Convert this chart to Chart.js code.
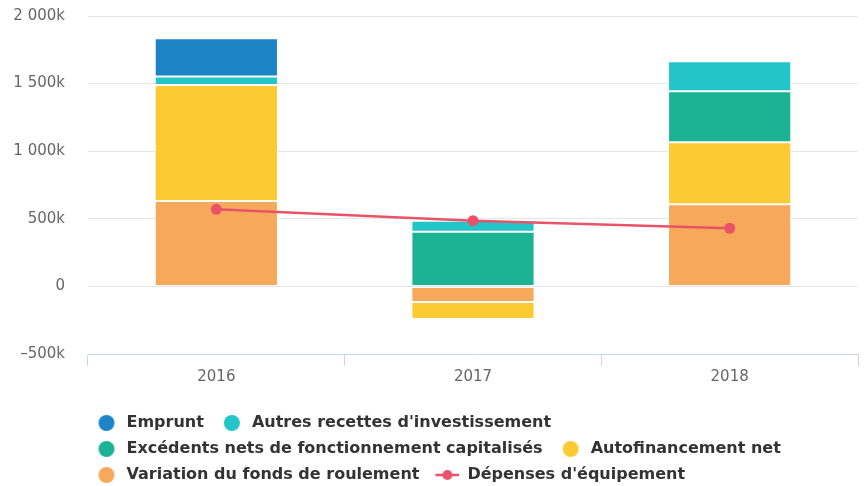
<!DOCTYPE html>
<html>
<head>
<meta charset="utf-8">
<script src="https://cdn.jsdelivr.net/npm/chart.js@4.4.1/dist/chart.umd.min.js"></script>
<style>
  html, body { margin: 0; padding: 0; background: #fff; }
  #wrap { width: 866px; height: 486px; }
</style>
</head>
<body>
<div id="wrap"><canvas id="chart"></canvas></div>
<script>
var years = ['2016', '2017', '2018'];

var emprunt = [284000, null, null];
var autresRecettes = [62000, 81000, 222000];
var excedents = [null, 405000, 377000];
var autofinancement = [858000, -126000, 459000];
var variationFdr = [632000, -115000, 607000];
var depensesEquipement = [570000, 486000, 430000];

var yTicks = [-500000, 0, 500000, 1000000, 1500000, 2000000];

// stacking goes bottom-up in dataset order, legend shows them top-down
var legendOrder = [4, 3, 2, 1, 0, 5];

function legendSymbol(color, isLine) {
  var c = document.createElement('canvas');
  c.width = 30;
  c.height = 16;
  var ctx = c.getContext('2d');
  ctx.fillStyle = color;
  ctx.strokeStyle = color;
  if (isLine) {
    ctx.lineWidth = 2.5;
    ctx.beginPath();
    ctx.moveTo(6, 8);
    ctx.lineTo(30, 8);
    ctx.stroke();
    ctx.beginPath();
    ctx.arc(18, 8, 5, 0, Math.PI * 2);
    ctx.fill();
  } else {
    ctx.beginPath();
    ctx.arc(18, 8, 8, 0, Math.PI * 2);
    ctx.fill();
  }
  return c;
}

function barSet(label, color, values) {
  return {
    type: 'bar',
    label: label,
    data: values,
    backgroundColor: color,
    borderColor: '#ffffff',
    borderWidth: 1,
    borderSkipped: false,
    categoryPercentage: 1,
    barPercentage: 0.48,
    symbol: legendSymbol(color, false)
  };
}

function formatK(v) {
  if (v === 0) return '0';
  var k = Math.abs(v / 1000).toString().replace(/\B(?=(\d{3})+(?!\d))/g, ' ');
  return (v < 0 ? '\u2013' : '') + k + 'k';
}

// the legend starts a bit left of the plot area
var legendShift = {
  id: 'legendShift',
  afterLayout: function(chart) {
    chart.legend.left = 78.5;
  }
};

Chart.defaults.font.family = 'DejaVu Sans';

new Chart(document.getElementById('chart'), {
  type: 'bar',
  data: {
    labels: years,
    datasets: [
      barSet('Variation du fonds de roulement', '#f6a95a', variationFdr),
      barSet('Autofinancement net', '#fdca33', autofinancement),
      barSet('Excédents nets de fonctionnement capitalisés', '#1bb394', excedents),
      barSet("Autres recettes d'investissement", '#22c5c8', autresRecettes),
      barSet('Emprunt', '#1e84c8', emprunt),
      {
        type: 'line',
        label: "Dépenses d'équipement",
        data: depensesEquipement,
        order: -1,
        borderColor: '#e9536a',
        backgroundColor: '#e9536a',
        borderWidth: 2.5,
        pointRadius: 5.5,
        pointBorderWidth: 0,
        pointBackgroundColor: '#e9536a',
        tension: 0,
        symbol: legendSymbol('#e9536a', true)
      }
    ]
  },
  plugins: [legendShift],
  options: {
    responsive: true,
    maintainAspectRatio: false,
    animation: false,
    layout: {
      padding: { left: 0, right: 8, top: 16, bottom: 0 }
    },
    scales: {
      x: {
        stacked: true,
        border: { color: '#ccd6eb', width: 1 },
        grid: {
          color: '#ccd6eb',
          drawOnChartArea: false,
          drawTicks: true,
          tickLength: 12
        },
        ticks: {
          color: '#666666',
          font: { size: 15 },
          padding: 2
        },
        afterFit: function(scale) { scale.height = 51; }
      },
      y: {
        stacked: true,
        min: -500000,
        max: 2000000,
        border: { display: false },
        grid: {
          color: '#e6e6e6',
          drawTicks: true,
          tickLength: 23,
          tickColor: 'rgba(0,0,0,0)'
        },
        ticks: {
          color: '#666666',
          font: { size: 15 },
          padding: 0,
          callback: function(v) { return formatK(v); }
        },
        afterBuildTicks: function(scale) {
          scale.ticks = yTicks.map(function(v) { return { value: v }; });
        },
        afterFit: function(scale) { scale.width = 88; }
      }
    },
    plugins: {
      tooltip: { enabled: false },
      legend: {
        position: 'bottom',
        align: 'start',
        maxHeight: 81,
        labels: {
          usePointStyle: true,
          pointStyleWidth: 30,
          padding: 10,
          color: '#333333',
          font: { family: 'DejaVu Sans', size: 16, weight: 'bold' },
          generateLabels: function(chart) {
            return legendOrder.map(function(i) {
              var ds = chart.data.datasets[i];
              return {
                text: ds.label,
                datasetIndex: i,
                pointStyle: ds.symbol,
                fillStyle: ds.backgroundColor,
                strokeStyle: 'transparent',
                lineWidth: 0,
                hidden: false,
                fontColor: '#333333'
              };
            });
          }
        }
      }
    }
  }
});
</script>
</body>
</html>
